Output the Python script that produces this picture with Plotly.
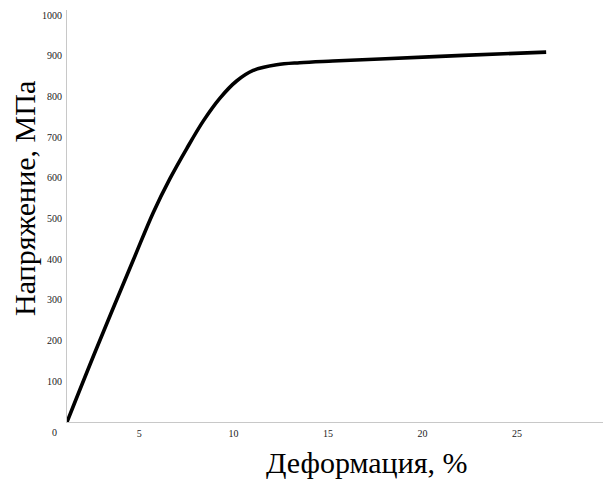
import plotly.graph_objects as go

# Data (strain %, stress MPa)
strain = [1.18, 2.71, 4.69, 5.75, 6.63, 7.52, 8.40, 9.28, 10.16, 11.04, 12.28, 13.5, 15.26, 17.75, 22.15, 26.55]
stress = [0, 177, 398, 515, 598, 672, 740, 796, 838, 864, 878, 883, 887, 892, 901, 909]

x_ticks = [5, 10, 15, 20, 25]
y_ticks = [100, 200, 300, 400, 500, 600, 700, 800, 900, 1000]

x_title = "Деформация, %"
y_title = "Напряжение, МПа"

serif = "Liberation Serif, Times New Roman, serif"

fig = go.Figure()
fig.add_trace(go.Scatter(
    x=strain, y=stress, mode="lines",
    line=dict(color="black", width=3.6, shape="spline", smoothing=1.0),
    hoverinfo="skip", showlegend=False,
))

fig.update_layout(
    width=603, height=483,
    margin=dict(l=67, r=0, t=10, b=61),
    paper_bgcolor="white", plot_bgcolor="white",
    font=dict(family=serif, color="#222", size=10),
    xaxis=dict(range=[1.18, 29.56], tickvals=x_ticks, showgrid=False, zeroline=False,
               showline=True, linecolor="#c8c8c8", linewidth=1, ticks="",
               ticklabelstandoff=2,
               tickfont=dict(family=serif, size=10, color="#222")),
    yaxis=dict(range=[0, 1012.5], tickvals=y_ticks, showgrid=False, zeroline=False,
               showline=True, linecolor="#c8c8c8", linewidth=1, ticks="",
               ticklabelstandoff=2,
               tickfont=dict(family=serif, size=10, color="#222")),
    annotations=[
        dict(text="0", xref="paper", yref="paper", x=-0.0224, y=-0.0246,
             showarrow=False, font=dict(family=serif, size=10, color="#222"),
             xanchor="center", yanchor="middle"),
        dict(text=x_title, xref="paper", yref="paper", x=0.5597, y=-0.0971,
             showarrow=False, font=dict(family=serif, size=30, color="black"),
             xanchor="center", yanchor="middle"),
        dict(text=y_title, xref="paper", yref="paper", x=-0.0784, y=0.5437,
             showarrow=False, textangle=-90, font=dict(family=serif, size=30, color="black"),
             xanchor="center", yanchor="middle"),
    ],
)

# remove the browser's default 8px body margin so the figure fills the window exactly
fig.write_html("out.html", config={"displayModeBar": False},
               post_script="document.body.style.margin='0';document.body.style.overflow='hidden';")
